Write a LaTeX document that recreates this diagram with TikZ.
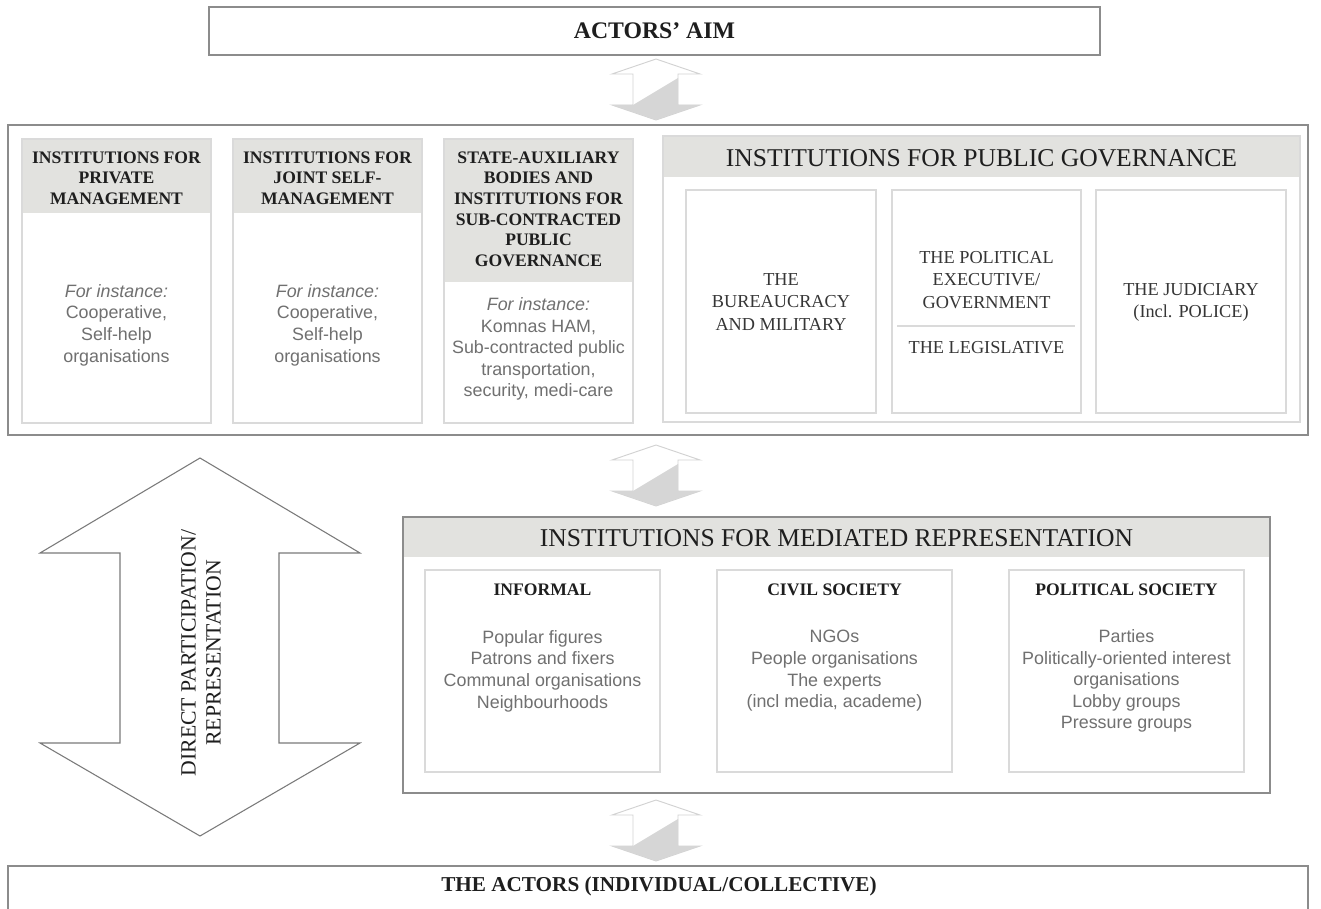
\documentclass[tikz,border=0pt]{standalone}
\usepackage{fontspec}
\setmainfont{Liberation Serif}
\setsansfont{Liberation Sans}
\definecolor{outerc}{HTML}{8C8C8C}
\definecolor{innerc}{HTML}{DADADA}
\definecolor{bandc}{HTML}{E2E2DF}
\definecolor{arrline}{HTML}{D2D2D2}
\definecolor{arrfill}{HTML}{D6D6D6}
\definecolor{sanstext}{HTML}{707070}
\definecolor{headtext}{HTML}{1E1E1E}
\definecolor{subtext}{HTML}{363636}
\definecolor{bigarr}{HTML}{7A7A7A}
\begin{document}
\begin{tikzpicture}[x=0.75pt,y=-0.75pt,
  outerbox/.style={draw=outerc,line width=1.1pt},
  innerbox/.style={draw=innerc,line width=0.8pt},
  band/.style={fill=bandc},
  txt/.style={inner sep=0pt,align=center},
  bigtitle/.style={txt,text=headtext,font=\fontsize{19.2pt}{22pt}\selectfont},
  boldtitle/.style={txt,text=headtext,font=\fontsize{17.8pt}{20pt}\selectfont\bfseries},
  colhead/.style={txt,text=headtext,font=\fontsize{13.2pt}{15.5pt}\selectfont\bfseries},
  subserif/.style={txt,text=subtext,font=\fontsize{13.7pt}{16.6pt}\selectfont},
  sanstxt/.style={txt,text=sanstext,font=\sffamily\fontsize{13.4pt}{16.2pt}\selectfont},
  arrout/.style={draw=arrline,line width=0.7pt,fill=white},
  arrgray/.style={fill=arrfill}
]
\useasboundingbox (0,0) rectangle (1321,909);
\fill[white] (0,0) rectangle (1321,909);

% ---------- top box ----------
\draw[outerbox] (209,7) rectangle (1100,55);
\node[boldtitle] (aim) at (654.5,31) {ACTORS’ AIM};

% ---------- split arrows ----------
\foreach \yy/\nm in {59/a1,445/a2,800/a3}{
  \begin{scope}[shift={(0,\yy)}]
    \draw[arrout] (656,0) -- (700,15) -- (678,15) -- (678,46) -- (700,46) -- (656,61)
      -- (612,46) -- (633,46) -- (633,15) -- (612,15) -- cycle;
    \fill[arrgray] (633,46) -- (678,19) -- (678,46) -- (700,46) -- (656,61) -- (612,46) -- cycle;
    \coordinate (\nm) at (656,30);
  \end{scope}
}

% ---------- governance box ----------
\draw[outerbox] (8,125) rectangle (1308,435);

% column 1
\fill[band] (22,139) rectangle (211,213);
\draw[innerbox] (22,139) rectangle (211,423);
\node[colhead] (c1h) at (116.5,178) {INSTITUTIONS FOR\\PRIVATE\\MANAGEMENT};
\node[sanstxt] (c1b) at (116.5,325) {\itshape For instance:\\Cooperative,\\Self-help\\organisations};

% column 2
\fill[band] (233,139) rectangle (422,213);
\draw[innerbox] (233,139) rectangle (422,423);
\node[colhead] (c2h) at (327.5,178) {INSTITUTIONS FOR\\JOINT SELF-\\MANAGEMENT};
\node[sanstxt] (c2b) at (327.5,325) {\itshape For instance:\\Cooperative,\\Self-help\\organisations};

% column 3
\fill[band] (444,139) rectangle (633,282);
\draw[innerbox] (444,139) rectangle (633,423);
\node[colhead] (c3h) at (538.5,209) {STATE-AUXILIARY\\BODIES AND\\INSTITUTIONS FOR\\SUB-CONTRACTED\\PUBLIC\\GOVERNANCE};
\node[sanstxt] (c3b) at (538.5,349) {\itshape For instance:\\Komnas HAM,\\Sub-contracted public\\transportation,\\security, medi-care};

% public governance panel
\fill[band] (663,136) rectangle (1300,177);
\draw[innerbox] (663,136) rectangle (1300,422);
\node[bigtitle] (pg) at (981.5,158) {INSTITUTIONS FOR PUBLIC GOVERNANCE};

\draw[innerbox] (686,190) rectangle (876,413);
\node[subserif] (bur) at (781,302) {THE\\BUREAUCRACY\\AND MILITARY};

\draw[innerbox] (892,190) rectangle (1081,413);
\node[subserif] (exe) at (986.5,280) {THE POLITICAL\\EXECUTIVE/\\GOVERNMENT};
\draw[innerc,line width=0.8pt] (897,326) -- (1075,326);
\node[subserif] (leg) at (986.5,348) {THE LEGISLATIVE};

\draw[innerbox] (1096,190) rectangle (1286,413);
\node[subserif] (jud) at (1191,302) {THE JUDICIARY\\(Incl. POLICE)};

% ---------- big double arrow ----------
\draw[draw=bigarr,line width=0.8pt,fill=white]
  (200,458) -- (360,553) -- (279,553) -- (279,743) -- (360,743) -- (200,836)
  -- (40,743) -- (120,743) -- (120,553) -- (40,553) -- cycle;
\node[txt,rotate=90,text=headtext,font=\fontsize{16.3pt}{18.8pt}\selectfont] (dp) at (201,653)
  {DIRECT PARTICIPATION/\\REPRESENTATION};

% ---------- mediated representation ----------
\fill[band] (403,517) rectangle (1270,557);
\draw[outerbox] (403,517) rectangle (1270,793);
\node[bigtitle] (mr) at (836.5,538) {INSTITUTIONS FOR MEDIATED REPRESENTATION};

\draw[innerbox] (425,570) rectangle (660,772);
\node[colhead] (inf) at (542.5,590) {INFORMAL};
\node[sanstxt] (infb) at (542.5,671) {Popular figures\\Patrons and fixers\\Communal organisations\\Neighbourhoods};

\draw[innerbox] (717,570) rectangle (952,772);
\node[colhead] (civ) at (834.5,590) {CIVIL SOCIETY};
\node[sanstxt] (civb) at (834.5,671) {NGOs\\People organisations\\The experts\\(incl media, academe)};

\draw[innerbox] (1009,570) rectangle (1244,772);
\node[colhead] (pol) at (1126.5,590) {POLITICAL SOCIETY};
\node[sanstxt] (polb) at (1126.5,681) {Parties\\Politically-oriented interest\\organisations\\Lobby groups\\Pressure groups};

% ---------- bottom box ----------
\draw[outerbox] (8,915) -- (8,866) -- (1308,866) -- (1308,915);
\node[txt,text=headtext,font=\fontsize{15.9pt}{18pt}\selectfont\bfseries] (act) at (659,886) {THE ACTORS (INDIVIDUAL/COLLECTIVE)};
\end{tikzpicture}
\end{document}
